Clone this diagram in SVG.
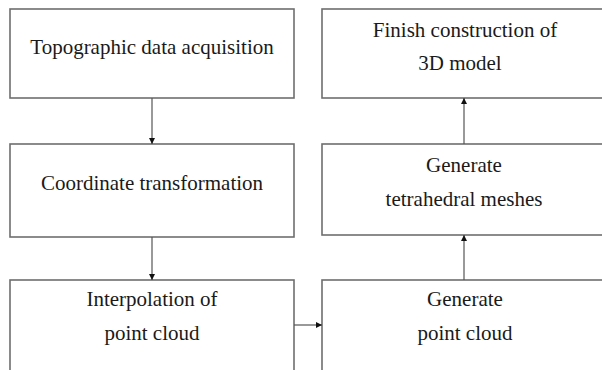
<svg xmlns="http://www.w3.org/2000/svg" width="602" height="370" viewBox="0 0 602 370">
  <defs>
    <style>
      .box { fill: #ffffff; stroke: #6e6e6e; stroke-width: 1.6; }
      .label { font-size: 21px; fill: #1a1a1a; text-anchor: middle; }
      .link { fill: none; stroke: #555555; stroke-width: 1.2; marker-end: url(#head); }
    </style>
    <marker id="head" viewBox="0 0 8 8" refX="8" refY="4" markerWidth="6" markerHeight="6" markerUnits="userSpaceOnUse" orient="auto">
      <path d="M0,0 L8,4 L0,8 Z" fill="#111111"/>
    </marker>
  </defs>
  <rect width="602" height="370" fill="#ffffff"/>

  <g font-family="'Liberation Serif', 'Times New Roman', 'DejaVu Serif', serif">
    <g id="topographic-data-acquisition">
      <rect class="box" x="10" y="9" width="284" height="89"/>
      <text class="label" x="152" y="54">Topographic data acquisition</text>
    </g>

    <g id="coordinate-transformation">
      <rect class="box" x="10" y="144" width="284" height="93"/>
      <text class="label" x="152" y="190">Coordinate transformation</text>
    </g>

    <g id="interpolation-of-point-cloud">
      <rect class="box" x="10" y="280" width="284" height="100"/>
      <text class="label" x="152" y="306">Interpolation of</text>
      <text class="label" x="152" y="340">point cloud</text>
    </g>

    <g id="generate-point-cloud">
      <rect class="box" x="322" y="280" width="290" height="100"/>
      <text class="label" x="465" y="306">Generate</text>
      <text class="label" x="465" y="340">point cloud</text>
    </g>

    <g id="generate-tetrahedral-meshes">
      <rect class="box" x="322" y="144" width="290" height="91"/>
      <text class="label" x="464" y="172">Generate</text>
      <text class="label" x="464" y="206">tetrahedral meshes</text>
    </g>

    <g id="finish-construction">
      <rect class="box" x="322" y="9" width="290" height="89"/>
      <text class="label" x="465" y="37">Finish construction of</text>
      <text class="label" x="460" y="70">3D model</text>
    </g>
  </g>

  <g id="connectors">
    <line class="link" x1="152" y1="98" x2="152" y2="144"/>
    <line class="link" x1="152" y1="237" x2="152" y2="280"/>
    <line class="link" x1="294" y1="325" x2="322" y2="325"/>
    <line class="link" x1="464" y1="280" x2="464" y2="235"/>
    <line class="link" x1="464" y1="144" x2="464" y2="98"/>
  </g>
</svg>
